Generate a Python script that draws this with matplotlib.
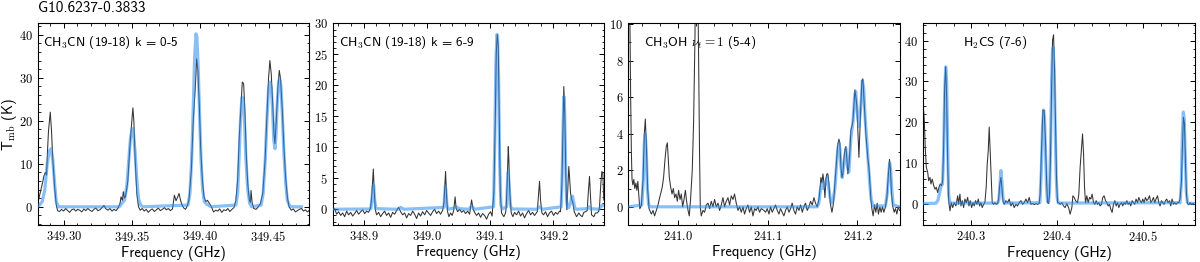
import matplotlib
matplotlib.use('Agg')
import matplotlib.pyplot as plt
from matplotlib.ticker import MultipleLocator, FormatStrFormatter

plt.rcParams['mathtext.fontset'] = 'cm'
plt.rcParams['font.family'] = ['cmss10', 'DejaVu Sans']
plt.rcParams['axes.formatter.use_mathtext'] = True

source = 'G10.6237-0.3833'

###################### CH3CN (19-18) k=0-5 ######################
f1_obs = [349.2812, 349.2823, 349.2834, 349.2845, 349.2856, 349.2867, 349.2875, 349.2882, 349.2889, 349.2902,
          349.2911, 349.2921, 349.2934, 349.2946, 349.2956, 349.2970, 349.2985, 349.3000, 349.3015, 349.3030,
          349.3044, 349.3059, 349.3074, 349.3089, 349.3103, 349.3118, 349.3133, 349.3148, 349.3162, 349.3177,
          349.3192, 349.3207, 349.3221, 349.3236, 349.3251, 349.3266, 349.3280, 349.3295, 349.3310, 349.3325,
          349.3339, 349.3354, 349.3369, 349.3384, 349.3398, 349.3413, 349.3420, 349.3430, 349.3437, 349.3445,
          349.3452, 349.3461, 349.3470, 349.3482, 349.3494, 349.3507, 349.3514, 349.3524, 349.3536, 349.3548,
          349.3561, 349.3575, 349.3590, 349.3605, 349.3620, 349.3634, 349.3649, 349.3664, 349.3679, 349.3693,
          349.3708, 349.3723, 349.3738, 349.3752, 349.3767, 349.3782, 349.3797, 349.3811, 349.3823, 349.3834,
          349.3845, 349.3856, 349.3867, 349.3880, 349.3893, 349.3905, 349.3917, 349.3935, 349.3949, 349.3964,
          349.3974, 349.3983, 349.3994, 349.4003, 349.4016, 349.4028, 349.4040, 349.4053, 349.4065, 349.4082,
          349.4097, 349.4114, 349.4129, 349.4143, 349.4158, 349.4173, 349.4188, 349.4202, 349.4217, 349.4232,
          349.4247, 349.4261, 349.4274, 349.4286, 349.4298, 349.4308, 349.4318, 349.4328, 349.4337, 349.4348,
          349.4360, 349.4368, 349.4372, 349.4380, 349.4392, 349.4409, 349.4426, 349.4441, 349.4458, 349.4475,
          349.4490, 349.4500, 349.4510, 349.4520, 349.4532, 349.4540, 349.4547, 349.4557, 349.4569, 349.4579,
          349.4588, 349.4601, 349.4613, 349.4625, 349.4638, 349.4650, 349.4667, 349.4682, 349.4697, 349.4711,
          349.4726, 349.4741, 349.4756, 349.4770, 349.4785, 349.4796]
t1_obs = [1.0, 2.5, 3.9, 5.5, 7.2, 8.0, 7.4, 13.0, 17.5, 22.0,
          17.8, 10.8, 4.6, 0.4, -0.9, -1.1, -0.6, -1.0, -0.4, -0.9,
          -1.3, -0.7, -0.5, -1.0, -0.6, -0.8, -1.2, -0.5, -0.9, -0.4,
          -0.8, -1.1, -0.6, -0.3, -0.9, -0.7, -0.2, 0.3, -0.5, -0.8,
          -0.4, -1.0, -0.6, -0.9, -0.3, 0.8, 2.3, 1.5, 3.5, 2.0,
          2.3, 4.0, 6.0, 12.4, 17.8, 23.0, 20.0, 10.8, 3.0, 0.0,
          -0.8, -0.4, -1.0, -0.6, -1.3, -0.8, -0.5, -1.1, -0.7, -0.3,
          -0.9, -0.6, -0.2, -0.7, -0.4, -0.9, -0.5, 2.7, 1.4, 2.2,
          3.1, 1.5, 0.4, -0.3, -0.6, 0.2, 1.5, 8.5, 20.0, 27.8,
          34.4, 31.7, 23.2, 13.9, 6.2, 2.3, 1.2, 1.5, 0.9, 0.0,
          -1.2, -0.8, -1.0, -0.5, -1.3, -0.7, -0.9, -0.4, -1.1, -0.6,
          -0.2, 1.5, 6.2, 16.2, 23.2, 29.0, 28.6, 21.7, 12.4, 5.4,
          1.5, 1.0, 3.8, 1.0, -0.4, -0.6, 0.0, 0.8, 3.1, 10.8,
          22.4, 29.8, 34.0, 30.9, 23.2, 17.0, 14.7, 20.1, 27.8, 31.7,
          29.8, 22.4, 13.9, 7.0, 2.3, 0.0, -0.8, -0.5, -1.2, -0.9,
          -0.6, -0.4, -1.0, -0.7, -1.2, -0.9]
f1_mod = [349.2806, 349.2818, 349.2843, 349.2862, 349.2880, 349.2897, 349.2909, 349.2921, 349.2934, 349.2946,
          349.2961, 349.3408, 349.3428, 349.3445, 349.3462, 349.3477, 349.3489, 349.3502, 349.3511, 349.3524,
          349.3536, 349.3548, 349.3563, 349.3580, 349.3910, 349.3925, 349.3937, 349.3949, 349.3959, 349.3969,
          349.3976, 349.3986, 349.3996, 349.4006, 349.4018, 349.4030, 349.4048, 349.4060, 349.4077, 349.4261,
          349.4274, 349.4286, 349.4296, 349.4306, 349.4316, 349.4326, 349.4335, 349.4348, 349.4362, 349.4377,
          349.4446, 349.4461, 349.4476, 349.4488, 349.4500, 349.4510, 349.4520, 349.4530, 349.4539, 349.4547,
          349.4554, 349.4564, 349.4574, 349.4581, 349.4591, 349.4601, 349.4613, 349.4626, 349.4638, 349.4653,
          349.4672, 349.4741]
t1_mod = [0.0, 0.2, 1.2, 3.9, 10.0, 13.1, 13.5, 10.8, 5.4, 1.2,
          0.0, 0.0, 0.9, 1.5, 4.6, 10.8, 15.9, 18.2, 17.4, 12.4,
          6.2, 1.9, 0.4, 0.0, 0.4, 3.1, 10.8, 23.2, 34.8, 40.2,
          39.4, 31.7, 20.9, 10.8, 3.9, 1.2, 0.6, 0.4, 0.0, 0.4,
          3.1, 12.4, 20.9, 25.5, 24.7, 18.6, 10.8, 3.9, 0.8, 0.0,
          0.4, 3.1, 10.8, 20.1, 27.1, 29.0, 27.8, 22.4, 15.5, 13.5,
          16.2, 24.0, 29.0, 29.8, 28.2, 21.7, 12.4, 5.4, 1.5, 0.3,
          0.0, 0.0]

###################### CH3CN (19-18) k=6-9 ######################
f2_obs = [348.8518, 348.8542, 348.8573, 348.8605, 348.8637, 348.8668, 348.8700, 348.8731, 348.8763, 348.8795,
          348.8826, 348.8858, 348.8889, 348.8921, 348.8953, 348.8984, 348.9016, 348.9047, 348.9079, 348.9111,
          348.9131, 348.9153, 348.9169, 348.9185, 348.9205, 348.9237, 348.9269, 348.9300, 348.9332, 348.9363,
          348.9395, 348.9427, 348.9458, 348.9490, 348.9521, 348.9553, 348.9585, 348.9616, 348.9648, 348.9679,
          348.9711, 348.9743, 348.9774, 348.9806, 348.9837, 348.9869, 348.9900, 348.9932, 348.9964, 348.9995,
          349.0027, 349.0058, 349.0090, 349.0122, 349.0153, 349.0185, 349.0216, 349.0248, 349.0269, 349.0280,
          349.0295, 349.0311, 349.0327, 349.0348, 349.0374, 349.0398, 349.0422, 349.0446, 349.0461, 349.0485,
          349.0517, 349.0548, 349.0580, 349.0611, 349.0643, 349.0675, 349.0706, 349.0730, 349.0754, 349.0785,
          349.0817, 349.0848, 349.0880, 349.0912, 349.0943, 349.0975, 349.1006, 349.1030, 349.1058, 349.1081,
          349.1096, 349.1112, 349.1128, 349.1144, 349.1160, 349.1180, 349.1216, 349.1243, 349.1254, 349.1270,
          349.1286, 349.1295, 349.1311, 349.1333, 349.1359, 349.1385, 349.1417, 349.1449, 349.1480, 349.1512,
          349.1543, 349.1575, 349.1607, 349.1638, 349.1670, 349.1701, 349.1744, 349.1765, 349.1780, 349.1796,
          349.1817, 349.1844, 349.1875, 349.1907, 349.1938, 349.1970, 349.2002, 349.2033, 349.2065, 349.2096,
          349.2112, 349.2133, 349.2149, 349.2164, 349.2180, 349.2196, 349.2212, 349.2228, 349.2243, 349.2254,
          349.2270, 349.2291, 349.2307, 349.2329, 349.2365, 349.2401, 349.2428, 349.2455, 349.2480, 349.2507,
          349.2534, 349.2550, 349.2570, 349.2586, 349.2602, 349.2638, 349.2665, 349.2692, 349.2717, 349.2728,
          349.2749, 349.2765, 349.2780, 349.2796]
t2_obs = [-0.2, 0.1, -0.8, -0.4, -1.0, -0.6, -1.2, -0.3, -0.9, -0.5,
          -1.1, -0.7, -0.2, -0.8, -0.4, -0.1, -0.7, -0.3, -0.5, 0.3,
          2.6, 6.5, 2.6, -0.1, -0.9, -0.5, -1.2, -0.7, -0.3, -1.0,
          -0.6, -1.3, -0.5, -0.8, -0.2, 0.3, -0.4, -0.9, -0.6, -1.4,
          -0.7, -1.0, -0.3, -0.8, -1.5, -0.6, -1.1, -0.4, -0.9, -0.2,
          -0.6, -1.0, -0.4, 0.0, -0.7, -0.3, -0.8, -0.2, 1.0, 3.1,
          6.1, 2.0, -0.4, -1.2, -0.6, -1.0, -0.3, 2.0, 0.2, -0.4,
          0.0, -0.5, -0.2, -0.7, -0.3, -0.8, 1.5, 0.0, -0.5, -1.0,
          -0.6, -1.3, -0.7, -1.0, -1.6, -0.8, -0.4, -1.1, 2.6, 14.5,
          25.2, 28.2, 26.3, 14.5, 2.6, -0.6, -1.2, -0.6, 0.4, 4.7,
          10.1, 8.0, 2.6, -0.6, -1.2, -0.5, -0.9, -0.3, -1.1, -0.6,
          -1.4, -0.7, -0.2, -0.9, -0.5, -1.0, -0.4, 2.6, 4.5, 1.5,
          -0.6, -0.9, -0.4, -1.2, -0.6, -0.3, -1.0, -0.5, -0.8, -0.3,
          -0.4, 3.7, 11.8, 19.8, 15.0, 5.3, -0.1, 3.7, 6.9, 5.3,
          2.6, 1.5, 1.0, -0.4, -1.2, -0.6, -1.0, -1.2, -0.5, -0.4,
          -0.2, 2.6, 5.3, 2.0, -0.9, -1.2, -0.6, -0.6, -0.3, 0.4,
          4.2, 6.1, 5.8, 1.5]
f2_mod = [348.8518, 348.9111, 348.9131, 348.9147, 348.9158, 348.9174, 348.9194, 348.9537, 348.9585, 348.9632,
          349.0269, 349.0280, 349.0291, 349.0300, 349.0316, 349.0332, 349.0427, 349.0464, 349.0506, 349.0659,
          349.0706, 349.0754, 349.1054, 349.1074, 349.1090, 349.1106, 349.1117, 349.1133, 349.1149, 349.1169,
          349.1191, 349.1259, 349.1275, 349.1286, 349.1302, 349.1318, 349.1338, 349.1733, 349.1780, 349.1828,
          349.2123, 349.2139, 349.2155, 349.2164, 349.2175, 349.2191, 349.2207, 349.2223, 349.2243, 349.2270,
          349.2286, 349.2302, 349.2318, 349.2338, 349.2365, 349.2534, 349.2559, 349.2586, 349.2717, 349.2749,
          349.2780, 349.2796]
t2_mod = [0.0, 0.05, 1.5, 3.7, 3.9, 1.5, 0.1, 0.0, 0.3, 0.0,
          0.3, 2.0, 3.7, 3.1, 0.7, 0.0, 0.2, 0.4, 0.1, 0.0,
          0.5, 0.0, 0.4, 11.8, 23.6, 28.2, 28.0, 20.9, 8.0, 0.7,
          0.05, 0.4, 4.7, 6.1, 3.7, 0.7, 0.05, 0.0, 0.4, 0.0,
          0.4, 6.4, 14.5, 18.2, 16.6, 8.0, 1.5, 0.2, 0.3, 1.0,
          2.0, 2.1, 1.2, 0.2, 0.0, 0.1, 0.4, 0.1, 0.0, 0.4,
          0.7, 0.7]

###################### CH3OH vt=1 (5-4) ######################
f3_obs = [240.9458, 240.9469, 240.9478, 240.9486, 240.9493, 240.9502, 240.9513, 240.9524, 240.9536, 240.9547,
          240.9558, 240.9569, 240.9580, 240.9591, 240.9597, 240.9616, 240.9630, 240.9641, 240.9652, 240.9667,
          240.9682, 240.9708, 240.9727, 240.9744, 240.9763, 240.9782, 240.9800, 240.9816, 240.9830, 240.9844,
          240.9860, 240.9874, 240.9886, 240.9897, 240.9908, 240.9922, 240.9938, 240.9952, 240.9967, 240.9982,
          240.9997, 241.0011, 241.0027, 241.0041, 241.0056, 241.0071, 241.0086, 241.0100, 241.0116, 241.0130,
          241.0144, 241.0163, 241.0178, 241.0193, 241.0200, 241.0213, 241.0222, 241.0233, 241.0244, 241.0252,
          241.0263, 241.0282, 241.0300, 241.0319, 241.0338, 241.0356, 241.0374, 241.0393, 241.0411, 241.0430,
          241.0449, 241.0467, 241.0486, 241.0504, 241.0522, 241.0541, 241.0560, 241.0578, 241.0597, 241.0616,
          241.0633, 241.0652, 241.0671, 241.0689, 241.0708, 241.0727, 241.0744, 241.0763, 241.0782, 241.0800,
          241.0819, 241.0838, 241.0856, 241.0874, 241.0893, 241.0911, 241.0930, 241.0960, 241.0978, 241.0997,
          241.1016, 241.1033, 241.1052, 241.1071, 241.1089, 241.1108, 241.1127, 241.1144, 241.1163, 241.1182,
          241.1200, 241.1219, 241.1238, 241.1256, 241.1274, 241.1293, 241.1311, 241.1330, 241.1349, 241.1367,
          241.1386, 241.1404, 241.1422, 241.1441, 241.1460, 241.1478, 241.1497, 241.1516, 241.1533, 241.1552,
          241.1571, 241.1582, 241.1593, 241.1604, 241.1616, 241.1627, 241.1638, 241.1649, 241.1660, 241.1671,
          241.1682, 241.1693, 241.1704, 241.1716, 241.1727, 241.1738, 241.1749, 241.1763, 241.1778, 241.1793,
          241.1804, 241.1816, 241.1827, 241.1838, 241.1849, 241.1860, 241.1871, 241.1882, 241.1893, 241.1904,
          241.1916, 241.1927, 241.1938, 241.1949, 241.1960, 241.1971, 241.1982, 241.1993, 241.2004, 241.2016,
          241.2027, 241.2038, 241.2049, 241.2060, 241.2071, 241.2082, 241.2093, 241.2104, 241.2116, 241.2127,
          241.2138, 241.2149, 241.2160, 241.2174, 241.2189, 241.2204, 241.2219, 241.2233, 241.2249, 241.2263,
          241.2278, 241.2293, 241.2311, 241.2327, 241.2341, 241.2356, 241.2367, 241.2378, 241.2393, 241.2408,
          241.2422, 241.2438, 241.2452, 241.2467]
t3_obs = [14.0, 10.5, 6.0, 3.0, 1.5, 1.2, 1.5, 1.0, 1.3, 0.9,
          1.4, 0.6, -0.1, 0.0, 0.1, 1.5, 4.0, 4.8, 3.5, 1.0,
          -0.1, -0.4, -0.2, -0.5, -0.2, 0.1, 0.5, 0.8, 1.1, 1.6,
          2.6, 3.3, 3.5, 2.6, 1.6, 1.1, 0.7, 1.0, 0.5, 0.7,
          0.3, 0.9, 0.4, 0.7, 0.0, 0.4, 0.9, 0.3, -0.2, -0.5,
          0.4, 2.0, 4.7, 9.3, 13.0, 25.0, 13.0, 8.4, 2.9, 0.0,
          -0.5, -0.2, -0.3, 0.1, 0.2, -0.1, 0.3, 0.0, 0.4, 0.0,
          0.2, -0.2, 0.1, 0.5, 0.0, 0.3, 0.5, 0.1, 0.6, 0.4,
          0.7, 0.2, -0.2, 0.0, -0.3, 0.0, -0.4, -0.1, 0.1, -0.3,
          0.0, -0.5, -0.1, -0.2, 0.0, -0.3, -0.1, -0.2, -0.3, -0.1,
          -0.4, 0.0, -0.3, -0.1, 0.1, -0.2, -0.4, -0.1, -0.3, -0.5,
          -0.2, 0.0, -0.3, -0.1, 0.2, -0.2, -0.4, 0.0, -0.2, 0.1,
          -0.3, 0.0, 0.2, -0.2, 0.0, 0.3, 0.1, 0.5, 0.2, 0.0,
          0.4, 0.9, 1.6, 1.3, 1.8, 1.3, 0.5, 1.5, 1.8, 1.8,
          1.3, 0.5, 0.0, -0.3, 0.0, 0.5, 1.3, 2.2, 3.3, 3.7,
          3.5, 2.2, 1.6, 1.8, 2.6, 3.1, 3.3, 2.6, 1.8, 2.2,
          3.1, 4.2, 4.4, 4.7, 5.5, 6.4, 6.0, 5.5, 4.2, 2.7,
          4.2, 5.7, 6.9, 7.0, 6.0, 4.9, 4.0, 3.3, 2.6, 2.2,
          1.3, 0.4, -0.1, -0.5, 0.1, -0.3, 0.2, -0.4, 0.0, -0.3,
          0.0, -0.3, 0.0, 0.5, 1.6, 2.6, 2.0, 0.7, 0.0, -0.3,
          -0.1, -0.4, 0.0, -0.2]
f3_mod = [240.9458, 240.9602, 240.9619, 240.9630, 240.9641, 240.9652, 240.9663, 240.9678, 240.9697, 241.1552,
          241.1571, 241.1586, 241.1604, 241.1619, 241.1641, 241.1660, 241.1682, 241.1704, 241.1727, 241.1749,
          241.1763, 241.1778, 241.1793, 241.1804, 241.1816, 241.1830, 241.1849, 241.1871, 241.1888, 241.1904,
          241.1927, 241.1949, 241.1971, 241.1982, 241.1997, 241.2016, 241.2038, 241.2054, 241.2069, 241.2086,
          241.2104, 241.2121, 241.2138, 241.2152, 241.2174, 241.2311, 241.2330, 241.2347, 241.2358, 241.2369,
          241.2382, 241.2397, 241.2467]
t3_mod = [0.0, 0.1, 1.5, 3.5, 4.0, 3.0, 1.0, 0.1, 0.0, 0.0,
          0.2, 0.9, 1.3, 1.0, 1.2, 1.6, 1.0, 0.2, 0.3, 1.0,
          2.0, 3.0, 3.5, 3.2, 2.2, 1.6, 2.4, 3.2, 2.2, 1.9,
          3.8, 4.6, 6.2, 6.3, 5.2, 4.4, 5.5, 6.9, 6.5, 4.8,
          3.6, 2.3, 1.2, 0.4, 0.05, 0.05, 0.7, 1.8, 2.4, 2.0,
          0.9, 0.1, 0.0]

###################### H2CS (7-6) ######################
f4_obs = [240.2440, 240.2459, 240.2470, 240.2482, 240.2498, 240.2510, 240.2525, 240.2536, 240.2551, 240.2568,
          240.2583, 240.2598, 240.2614, 240.2629, 240.2644, 240.2660, 240.2672, 240.2683, 240.2695, 240.2707,
          240.2718, 240.2730, 240.2741, 240.2757, 240.2772, 240.2788, 240.2806, 240.2826, 240.2846, 240.2857,
          240.2872, 240.2884, 240.2899, 240.2915, 240.2930, 240.2946, 240.2962, 240.2977, 240.2992, 240.3008,
          240.3023, 240.3038, 240.3054, 240.3070, 240.3085, 240.3101, 240.3116, 240.3131, 240.3147, 240.3162,
          240.3177, 240.3189, 240.3201, 240.3212, 240.3224, 240.3235, 240.3247, 240.3263, 240.3278, 240.3293,
          240.3310, 240.3321, 240.3336, 240.3348, 240.3359, 240.3371, 240.3386, 240.3406, 240.3426, 240.3444,
          240.3464, 240.3483, 240.3502, 240.3522, 240.3541, 240.3560, 240.3580, 240.3599, 240.3618, 240.3638,
          240.3657, 240.3676, 240.3696, 240.3715, 240.3734, 240.3754, 240.3773, 240.3792, 240.3803, 240.3820,
          240.3835, 240.3850, 240.3866, 240.3878, 240.3889, 240.3901, 240.3912, 240.3924, 240.3936, 240.3947,
          240.3959, 240.3970, 240.3982, 240.3994, 240.4005, 240.4017, 240.4035, 240.4055, 240.4075, 240.4093,
          240.4113, 240.4133, 240.4151, 240.4171, 240.4183, 240.4198, 240.4214, 240.4237, 240.4252, 240.4267,
          240.4283, 240.4295, 240.4307, 240.4318, 240.4330, 240.4345, 240.4360, 240.4376, 240.4391, 240.4406,
          240.4423, 240.4438, 240.4453, 240.4469, 240.4484, 240.4499, 240.4515, 240.4530, 240.4545, 240.4562,
          240.4577, 240.4592, 240.4608, 240.4623, 240.4638, 240.4654, 240.4670, 240.4685, 240.4701, 240.4716,
          240.4731, 240.4747, 240.4762, 240.4777, 240.4794, 240.4809, 240.4824, 240.4840, 240.4855, 240.4870,
          240.4886, 240.4901, 240.4916, 240.4933, 240.4948, 240.4963, 240.4979, 240.4994, 240.5009, 240.5025,
          240.5041, 240.5056, 240.5072, 240.5087, 240.5102, 240.5118, 240.5133, 240.5148, 240.5165, 240.5180,
          240.5195, 240.5211, 240.5226, 240.5241, 240.5257, 240.5272, 240.5288, 240.5304, 240.5319, 240.5334,
          240.5350, 240.5365, 240.5380, 240.5396, 240.5412, 240.5427, 240.5443, 240.5454, 240.5466, 240.5478,
          240.5489, 240.5501, 240.5512, 240.5528, 240.5543, 240.5562, 240.5582]
t4_obs = [26.2, 20.4, 13.8, 8.9, 7.7, 5.6, 6.4, 4.8, 6.0, 4.4,
          3.5, 4.0, 2.7, 4.0, 4.8, 4.4, 5.6, 13.8, 28.6, 33.6,
          26.2, 10.5, 0.7, -1.8, 0.2, -1.0, 0.2, -0.6, 1.9, -0.2,
          2.3, -0.6, 0.7, -1.0, 1.1, 0.2, 1.5, -0.6, 0.7, -1.0,
          0.2, -0.6, 0.7, -0.2, 1.1, -0.6, 0.2, -1.0, -0.2, 0.2,
          4.0, 9.7, 13.0, 18.8, 12.2, 5.6, 0.2, -0.2, 0.2, -0.2,
          0.0, 1.1, 4.8, 6.4, 4.0, 0.7, -0.2, 0.7, 0.2, 1.1,
          -0.6, 0.2, -1.0, -0.2, -0.6, 0.2, 0.7, -0.2, 0.2, 1.1,
          0.2, 1.5, -0.2, 0.0, -0.3, 0.0, -0.2, 0.0, 2.3, 13.8,
          22.9, 22.9, 14.7, 5.6, 0.2, 0.0, 2.3, 12.2, 28.6, 40.2,
          41.5, 32.8, 18.8, 5.6, 0.2, 0.2, -0.2, 0.2, -0.6, -1.0,
          0.0, -1.0, -2.6, -1.0, 1.9, 1.5, 0.7, 0.2, 2.3, 8.9,
          13.8, 17.1, 12.2, 4.0, 0.2, 1.9, 0.2, 1.5, 1.1, 2.3,
          0.2, -0.2, 0.7, -0.2, 0.2, -0.6, -0.2, 1.5, 1.9, 0.7,
          0.2, -0.6, -0.2, -1.4, -2.2, -0.2, 0.7, -0.6, 0.2, -1.0,
          -0.2, 0.2, -0.6, 0.2, -0.2, 0.7, -0.2, 0.2, -0.6, 0.7,
          0.2, -0.2, 1.1, 0.2, 1.5, 0.7, 0.2, 1.1, 0.2, 1.5,
          0.7, 1.1, 1.9, 0.2, 0.7, 1.5, 0.2, 1.1, 1.9, 0.2,
          -0.6, 0.7, 0.2, -0.2, 0.7, 1.1, 0.2, 0.7, -0.6, 1.1,
          -0.2, 0.2, -0.2, 0.2, 0.2, 1.1, 5.6, 13.8, 21.2, 19.6,
          10.5, 2.3, 0.0, -0.3, 0.2, -0.2, 0.0]
f4_mod = [240.2447, 240.2594, 240.2617, 240.2635, 240.2652, 240.2670, 240.2683, 240.2695, 240.2707, 240.2718,
          240.2730, 240.2741, 240.2757, 240.3310, 240.3325, 240.3336, 240.3348, 240.3359, 240.3371, 240.3386,
          240.3800, 240.3817, 240.3831, 240.3843, 240.3854, 240.3866, 240.3878, 240.3889, 240.3901, 240.3912,
          240.3924, 240.3936, 240.3947, 240.3954, 240.3966, 240.3977, 240.3989, 240.4001, 240.4017, 240.5427,
          240.5441, 240.5452, 240.5464, 240.5475, 240.5487, 240.5499, 240.5512, 240.5528, 240.5601]
t4_mod = [0.0, 0.05, 0.8, 2.5, 4.2, 4.8, 12.2, 27.0, 33.6, 30.3,
          13.8, 2.3, 0.1, 0.1, 1.0, 4.5, 8.1, 5.5, 1.5, 0.1,
          0.2, 8.0, 19.0, 23.0, 21.0, 12.0, 3.5, 0.5, 0.3, 3.0,
          14.0, 30.0, 37.5, 38.3, 33.0, 20.0, 7.0, 1.2, 0.1, 0.2,
          5.0, 16.0, 22.5, 21.0, 12.0, 3.0, 0.3, 0.05, 0.0]

labels = [r'CH$_3$CN (19-18) k = 0-5', r'CH$_3$CN (19-18) k = 6-9',
          r'CH$_3$OH $\nu_t = 1$ (5-4)', r'H$_2$CS (7-6)']
label_x = [0.02, 0.023, 0.056, 0.146]
xlims = [(349.281, 349.480), (348.851, 349.2806), (240.9452, 241.2474), (240.2447, 240.5601)]
ylims = [(-4.25, 42.65), (-2.55, 30.0), (-1.0, 10.04), (-5.3, 44.3)]
xmajor = [0.05, 0.1, 0.1, 0.1]
xminor = [0.01, 0.02, 0.02, 0.02]
xfmt = ['$%.2f$', '$%.1f$', '$%.1f$', '$%.1f$']
ymajor = [10, 5, 2, 10]
yminor = [2, 1, 1, 2]

obs = [(f1_obs, t1_obs), (f2_obs, t2_obs), (f3_obs, t3_obs), (f4_obs, t4_obs)]
mod = [(f1_mod, t1_mod), (f2_mod, t2_mod), (f3_mod, t3_mod), (f4_mod, t4_mod)]

fig = plt.figure(figsize=(12, 2.62), dpi=100)
lefts = [0.0314, 0.2772, 0.5236, 0.7694]
for i in range(4):
    ax = fig.add_axes([lefts[i], 0.141, 0.2265, 0.770])
    ax.plot(obs[i][0], obs[i][1], color='#333333', lw=0.75, zorder=2)
    ax.plot(mod[i][0], mod[i][1], color='#2b8cf0', lw=2.3, alpha=0.55, zorder=3)
    ax.text(label_x[i], 0.905, labels[i], transform=ax.transAxes, fontsize=9.5,
            va='center', ha='left', zorder=1)
    ax.set_xlim(xlims[i])
    ax.set_ylim(ylims[i])
    ax.xaxis.set_major_locator(MultipleLocator(xmajor[i]))
    ax.xaxis.set_minor_locator(MultipleLocator(xminor[i]))
    ax.xaxis.set_major_formatter(FormatStrFormatter(xfmt[i]))
    ax.yaxis.set_major_locator(MultipleLocator(ymajor[i]))
    ax.yaxis.set_minor_locator(MultipleLocator(yminor[i]))
    ax.yaxis.set_major_formatter(FormatStrFormatter('$%d$'))
    ax.tick_params(which='both', direction='in', top=True, right=True, labelsize=9)
    ax.tick_params(which='major', length=3.5, width=0.7)
    ax.tick_params(which='minor', length=1.8, width=0.6)
    for s in ax.spines.values():
        s.set_linewidth(0.8)
    ax.set_xlabel('Frequency (GHz)', fontsize=10.5, labelpad=1.5)
    if i == 0:
        ax.set_ylabel(r'T$_{\rm mb}$ (K)', fontsize=10.5)
        ax.yaxis.set_label_coords(-0.069, 0.5)

fig.text(0.0314, 0.969, source, fontsize=11, va='center', ha='left')
fig.savefig('out.png', dpi=100)
